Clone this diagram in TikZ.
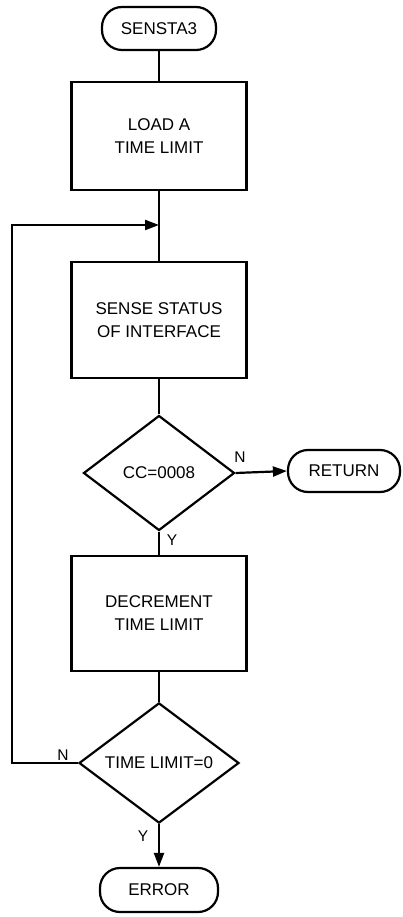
\documentclass[tikz,border=0pt]{standalone}
\usepackage{fontspec}
\setmainfont{Liberation Sans}
\usetikzlibrary{shapes.geometric,arrows.meta}
\begin{document}
\begin{tikzpicture}[x=1pt,y=-1pt,
  every node/.style={font=\fontsize{17}{23}\selectfont},
  line/.style={line width=2.2pt},
  arr/.style={line width=2.2pt, -{Triangle[length=14pt,width=10pt]}},
  term/.style={draw, line width=2.2pt, rounded corners=20pt, minimum height=43pt, inner sep=0pt},
  proc/.style={draw, line width=2.2pt, minimum width=175pt, align=center, inner sep=0pt},
  decision/.style={draw, diamond, line width=2.2pt, inner sep=0pt},
  lbl/.style={font=\fontsize{15.5}{18}\selectfont, inner sep=0pt}
]
\useasboundingbox (0,0) rectangle (402,917);
\node[term, minimum width=114pt] (start) at (159,28.5) {SENSTA3};
\node[proc, minimum height=108pt] (load) at (159,136) {LOAD A\\TIME LIMIT};
\node[proc, minimum height=116pt] (sense) at (159,320) {SENSE STATUS\\OF INTERFACE};
\node[decision, minimum width=151pt, minimum height=115pt] (d1) at (159,473) {CC=0008};
\node[term, minimum width=112pt, minimum height=42pt] (ret) at (344,471) {RETURN};
\node[proc, minimum height=115pt] (dec) at (159,613.5) {DECREMENT\\TIME LIMIT};
\node[decision, minimum width=160pt, minimum height=119pt] (d2) at (159,763) {TIME LIMIT=0};
\node[term, minimum width=118pt, minimum height=44pt] (err) at (159,890) {ERROR};
\coordinate (j) at (159,225);
\coordinate (lc) at (12,225);

\draw[line] (start) -- (load);
\draw[line] (load) -- (sense);
\draw[line] (sense) -- (d1);
\draw[arr] (d1.east) -- (ret.west);
\draw[line] (d1) -- (dec);
\draw[line] (dec) -- (d2);
\draw[arr] (d2.south) -- (err.north);
\draw[arr] (d2.west) -| (lc) -- (j);

\node[lbl] at (240,457) {N};
\node[lbl] at (172,540) {Y};
\node[lbl] at (63,755) {N};
\node[lbl] at (143,836) {Y};
\end{tikzpicture}
\end{document}
